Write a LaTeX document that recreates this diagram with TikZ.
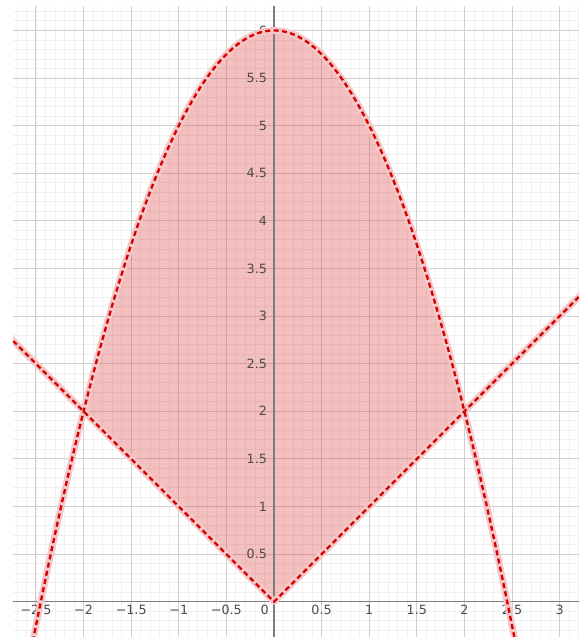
\documentclass[tikz,border=0pt]{standalone}
\usepackage{fontspec}
\setsansfont{DejaVu Sans}
\usepackage{xcolor}
\usepackage{tikz}
\usetikzlibrary{calc}
\definecolor{gridmajor}{HTML}{D0D0D0}
\definecolor{gridminor}{HTML}{F0F0F0}
\definecolor{axisgray}{HTML}{7C7C7C}
\definecolor{curvered}{HTML}{D60000}
\definecolor{shade}{HTML}{DC3C3C}
\definecolor{ticktext}{HTML}{4A4A4A}
\tikzset{
    minorgrid/.style={draw=gridminor, line width=0.5pt},
    majorgrid/.style={draw=gridmajor, line width=0.6pt},
    axisline/.style={draw=axisgray, line width=0.9pt},
    curvehalo/.style={draw=curvered!22, line width=4pt, line join=round},
    curveline/.style={draw=curvered, line width=1.4pt, dash pattern=on 3pt off 2pt},
    region/.style={fill=shade, fill opacity=0.33},
    xtick/.style={anchor=north, font=\sffamily\fontsize{7.6}{9}\selectfont, text=ticktext, inner sep=2pt},
    ytick/.style={anchor=east, font=\sffamily\fontsize{7.6}{9}\selectfont, text=ticktext, inner xsep=4pt, inner ysep=1pt}
}

\begin{document}
\begin{tikzpicture}[x=2cm, y=2cm]

% page size
\useasboundingbox (-2.878,-0.371) rectangle (3.277,6.32);

\begin{scope}
\clip (-2.742,-0.371) rectangle (3.204,6.247);

% grid
\draw[minorgrid, step=0.1] (-2.8,-0.4) grid (3.3,6.3);
\draw[majorgrid, step=0.5] (-2.8,-0.4) grid (3.3,6.3);

% shaded region between the curves
\fill[region] plot[domain=-2:2, samples=81] (\x,{6-\x*\x}) -- (0,0) -- cycle;

% axes
\coordinate (xmin) at (-2.8,0);
\coordinate (xmax) at (3.3,0);
\coordinate (ymin) at (0,-0.4);
\coordinate (ymax) at (0,6.3);
\draw[axisline] (xmin) -- (xmax);
\draw[axisline] (ymin) -- (ymax);

% tick labels
\foreach \v/\t [count=\i] in {-2.5/−2.5, -2/−2, -1.5/−1.5, -1/−1, -0.5/−0.5, 0.5/0.5, 1/1, 1.5/1.5, 2/2, 2.5/2.5, 3/3}
    \node[xtick] (xt\i) at (\v,0) {\t};
\node[xtick, anchor=north east, inner xsep=3pt] (org) at (0,0) {0};
\foreach \v [count=\i] in {0.5,1,1.5,2,2.5,3,3.5,4,4.5,5,5.5,6}
    \node[ytick] (yt\i) at (0,\v) {\v};

% curves
\coordinate (vleft) at (-2.8,2.8);
\coordinate (vtip) at (0,0);
\coordinate (vright) at (3.3,3.3);
\foreach \sty in {curvehalo,curveline}{
    \draw[\sty] plot[domain=-2.55:2.55, samples=121] (\x,{6-\x*\x});
    \draw[\sty] (vleft) -- (vtip) -- (vright);
}
\end{scope}

\end{tikzpicture}
\end{document}
